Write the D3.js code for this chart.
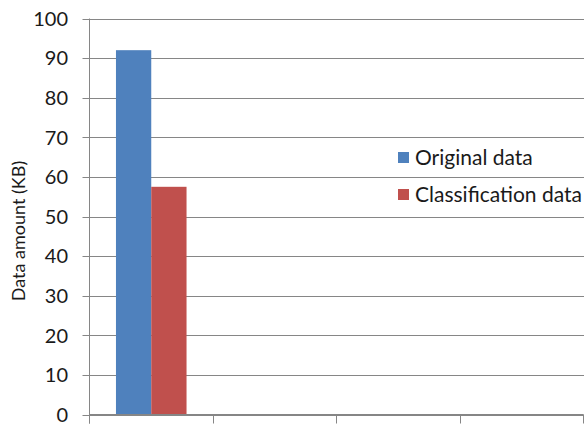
<!DOCTYPE html>
<html>
<head>
<meta charset="utf-8">
<script src="https://cdn.jsdelivr.net/npm/d3@7"></script>
<style>
  html, body { margin: 0; padding: 0; background: #fff; }
  svg { display: block; font-family: Lato, "Open Sans", sans-serif; }
</style>
</head>
<body>
<div id="chart"></div>
<script>
// Chart data.
const categories = ['1', '2', '3', '4'];
const seriesNames = ['Original data', 'Classification data'];
const seriesColours = ['#4F81BD', '#C0504D'];
const originalData = [92, null, null, null];
const classificationData = [57.5, null, null, null];
const yTicks = [0, 10, 20, 30, 40, 50, 60, 70, 80, 90, 100];

const width = 584;
const height = 428;
const GRID = '#868686';

const svg = d3.select('#chart')
  .append('svg')
  .attr('width', width)
  .attr('height', height);

// Plot area.
const plotLeft = 89.5;
const plotRight = 583.5;
const plotTop = 18.5;
const plotBottom = 414.5;

const x = d3.scaleBand()
  .domain(categories)
  .range([plotLeft, plotRight])
  .padding(0);

// Excel style: gap width 150% of a bar.
const xSeries = d3.scaleBand()
  .domain(seriesNames)
  .range([0, x.bandwidth()])
  .paddingInner(0)
  .paddingOuter(0.75);

const y = d3.scaleLinear()
  .domain([0, 100])
  .range([plotBottom, plotTop]);

// Gridlines and y tick marks.
svg.append('g')
  .selectAll('line')
  .data(yTicks)
  .join('line')
  .attr('x1', plotLeft - 7)
  .attr('x2', width)
  .attr('y1', d => Math.round(y(d)) + 0.5)
  .attr('y2', d => Math.round(y(d)) + 0.5)
  .attr('stroke', GRID)
  .attr('stroke-width', 1);

// Y tick labels.
svg.append('g')
  .selectAll('text')
  .data(yTicks)
  .join('text')
  .attr('x', 68)
  .attr('y', d => y(d))
  .attr('dy', '0.36em')
  .attr('text-anchor', 'end')
  .attr('fill', '#1a1a1a')
  .style('font-size', '20px')
  .text(d => d);

// Bars.
const rows = categories.map((c, i) => ({
  category: c,
  values: [originalData[i], classificationData[i]]
}));

svg.append('g')
  .selectAll('g')
  .data(rows)
  .join('g')
  .attr('transform', d => `translate(${x(d.category)},0)`)
  .selectAll('rect')
  .data(d => d.values.map((v, j) => ({ name: seriesNames[j], value: v, colour: seriesColours[j] }))
    .filter(d => d.value != null))
  .join('rect')
  .attr('x', d => xSeries(d.name))
  .attr('width', xSeries.bandwidth())
  .attr('y', d => y(d.value))
  .attr('height', d => y(0) - y(d.value))
  .attr('fill', d => d.colour);

// Axis lines.
svg.append('line')
  .attr('x1', plotLeft).attr('x2', plotLeft)
  .attr('y1', plotTop).attr('y2', plotBottom + 9)
  .attr('stroke', GRID);

svg.append('line')
  .attr('x1', plotLeft).attr('x2', plotRight)
  .attr('y1', plotBottom).attr('y2', plotBottom)
  .attr('stroke', GRID);

// X tick marks sit on the category boundaries.
const boundaries = categories.map(c => x(c)).concat([plotRight]);
svg.append('g')
  .selectAll('line')
  .data(boundaries)
  .join('line')
  .attr('x1', d => Math.round(d - 0.5) + 0.5)
  .attr('x2', d => Math.round(d - 0.5) + 0.5)
  .attr('y1', plotBottom)
  .attr('y2', plotBottom + 9)
  .attr('stroke', GRID);

// Y axis title.
svg.append('text')
  .attr('transform', 'translate(25,231) rotate(-90)')
  .attr('text-anchor', 'middle')
  .attr('fill', '#1a1a1a')
  .style('font-size', '18px')
  .text('Data amount (KB)');

// Legend.
const legend = svg.append('g')
  .selectAll('g')
  .data(seriesNames)
  .join('g')
  .attr('transform', (d, i) => `translate(398,${157.5 + i * 37})`);

legend.append('rect')
  .attr('x', 0)
  .attr('y', -5.5)
  .attr('width', 11)
  .attr('height', 11)
  .attr('fill', (d, i) => seriesColours[i]);

legend.append('text')
  .attr('x', 17)
  .attr('y', 0)
  .attr('dy', '0.36em')
  .attr('fill', '#1a1a1a')
  .style('font-size', '21px')
  .text(d => d);
</script>
</body>
</html>
